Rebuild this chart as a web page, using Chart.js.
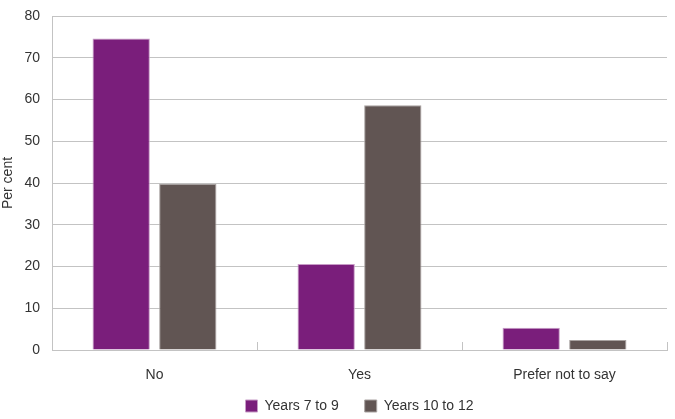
<!DOCTYPE html>
<html>
<head>
<meta charset="utf-8">
<script src="https://cdn.jsdelivr.net/npm/chart.js@4/dist/chart.umd.min.js"></script>
<style>
  html, body { margin: 0; padding: 0; background: #fff; }
  #wrap { width: 675px; height: 419px; }
</style>
</head>
<body>
<div id="wrap"><canvas id="bar-chart"></canvas></div>
<script>
// data
var categories = ["No", "Yes", "Prefer not to say"];
var years7to9 = [74.6, 20.6, 5.3];
var years10to12 = [39.8, 58.6, 2.4];
var yTicks = [0, 10, 20, 30, 40, 50, 60, 70, 80];

var gridCol = "#c3c3c3";

// little tick marks that sit above the x axis between categories
var innerTicks = {
  id: "innerTicks",
  afterDatasetsDraw: function(chart) {
    var x = chart.scales.x, c = chart.ctx;
    var step = (x.right - x.left) / categories.length;
    c.save();
    c.strokeStyle = gridCol;
    c.lineWidth = 1;
    for (var i = 1; i <= categories.length; i++) {
      var px = Math.round(x.left + step * i) + 0.5;
      c.beginPath();
      c.moveTo(px, x.top - 8);
      c.lineTo(px, x.top);
      c.stroke();
    }
    c.restore();
  }
};

Chart.defaults.font.family = "'Liberation Sans', Arial, sans-serif";
Chart.defaults.color = "#333";

new Chart(document.getElementById("bar-chart"), {
  type: "bar",
  data: {
    labels: categories,
    datasets: [
      {
        label: "Years 7 to 9",
        data: years7to9,
        backgroundColor: "#7a1e7b",
        borderColor: "#c79bc6",
        borderWidth: 1
      },
      {
        label: "Years 10 to 12",
        data: years10to12,
        backgroundColor: "#615553",
        borderColor: "#a8a2a0",
        borderWidth: 1
      }
    ]
  },
  options: {
    responsive: true,
    maintainAspectRatio: false,
    animation: false,
    layout: { padding: { top: 0, right: 8, left: 0, bottom: -4 } },
    datasets: {
      bar: { categoryPercentage: 0.65, barPercentage: 0.86 }
    },
    plugins: {
      legend: {
        position: "bottom",
        fullSize: false,
        labels: {
          boxWidth: 12,
          boxHeight: 12,
          padding: 26,
          font: { size: 14 },
          color: "#333"
        }
      },
      tooltip: { enabled: false }
    },
    scales: {
      x: {
        afterFit: function(s) {
          s.height = 23;
          // labels hang below the short box, so don't clip them
          s._computeLabelArea = function() { return undefined; };
        },
        grid: { display: false, drawTicks: false },
        border: { color: gridCol },
        ticks: { font: { size: 14 }, padding: 17, color: "#333" }
      },
      y: {
        min: 0,
        max: 80,
        afterFit: function(s) { s.width = 52; s.paddingTop = 16; },
        afterBuildTicks: function(s) { s.ticks = yTicks.map(function(v) { return { value: v }; }); },
        grid: { color: gridCol, drawTicks: false },
        border: { color: gridCol },
        ticks: { font: { size: 14 }, padding: 12, color: "#333" },
        title: { display: true, text: "Per cent", font: { size: 14 }, color: "#333", padding: { top: 0, bottom: 6 } }
      }
    }
  },
  plugins: [innerTicks]
});
</script>
</body>
</html>
